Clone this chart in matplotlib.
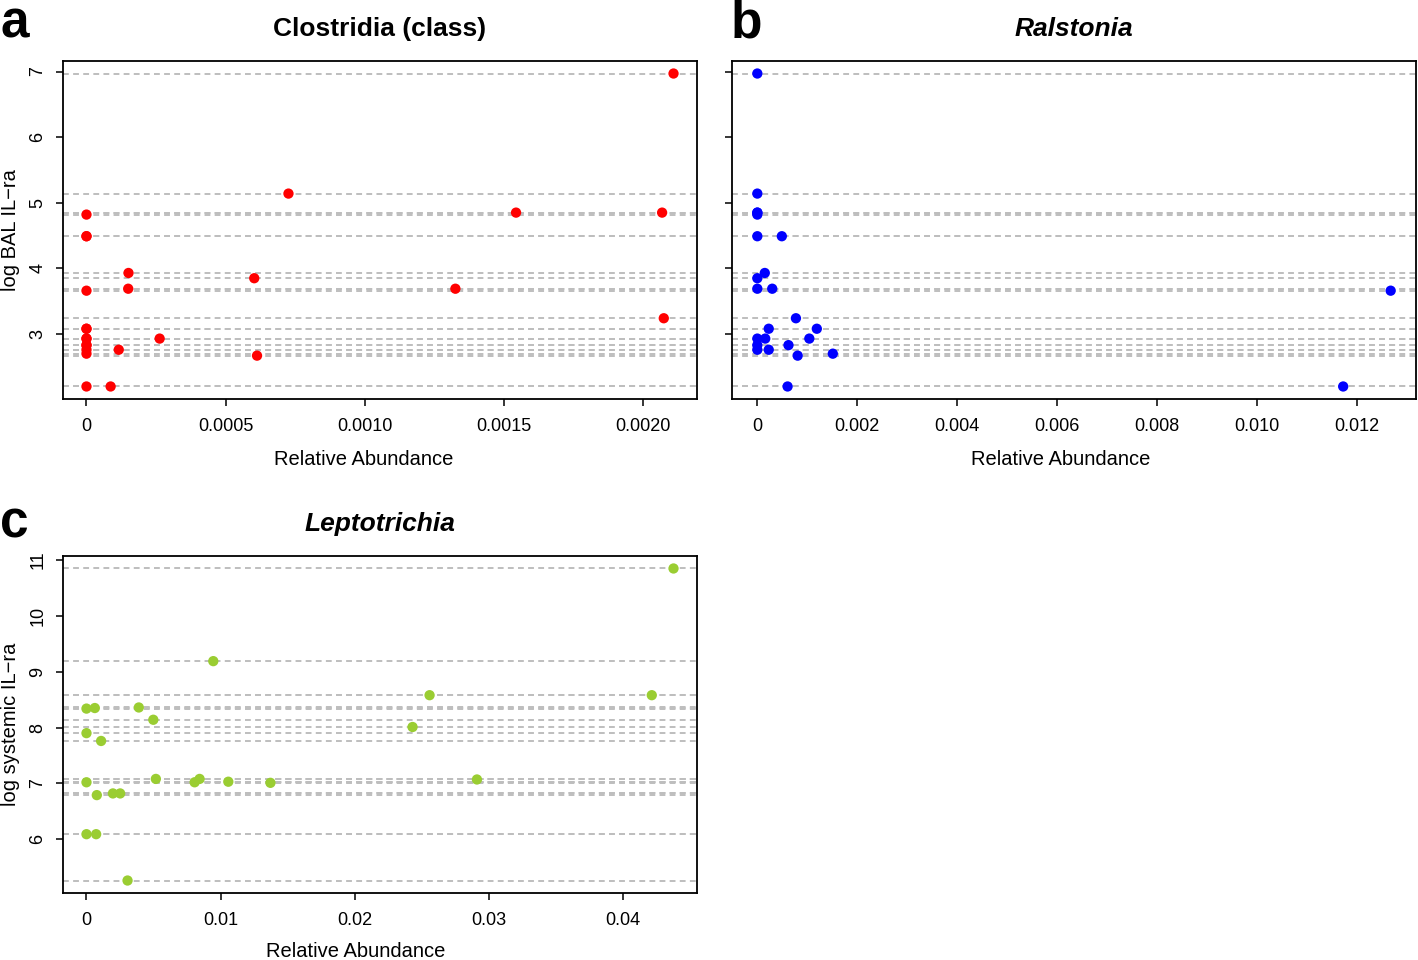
import matplotlib
matplotlib.use("Agg")
import matplotlib.pyplot as plt
import numpy as np

# shared response for panels a and b (log BAL IL-ra)
bal_il_ra = [6.97, 5.14, 4.85, 4.85, 4.82, 4.49, 4.49, 3.93, 3.85, 3.69, 3.69, 3.66, 3.24,
             3.08, 3.08, 2.93, 2.93, 2.93, 2.83, 2.83, 2.76, 2.76, 2.70, 2.67, 2.20, 2.20]
clostridia_abund = [0.00211, 0.000726, 0.001544, 0.002069, 0, 0, 0, 0.000151, 0.000603,
                    0.00015, 0.001326, 0, 0.002075, 0, 0, 0, 0.000263, 0, 0, 0, 0,
                    0.000116, 0, 0.000613, 0, 0.0000868]
ralstonia_abund = [0, 0, 0, 0, 0, 0, 0.00049, 0.000149, 0, 0, 0.000298, 0.01267, 0.000772,
                   0.000228, 0.00119, 0, 0.000158, 0.00104, 0, 0.000623, 0, 0.000228,
                   0.00151, 0.000807, 0.000605, 0.01172]

# panel c (log systemic IL-ra)
sys_il_ra = [10.85, 9.19, 8.58, 8.58, 8.34, 8.35, 8.36, 8.14, 8.01, 7.90, 7.76, 7.02, 7.08,
             7.02, 7.08, 7.03, 7.01, 7.07, 6.79, 6.82, 6.82, 6.09, 6.09, 5.26]
lepto_abund = [0.04375, 0.00945, 0.02557, 0.04213, 0, 0.00062, 0.0039, 0.00498, 0.0243, 0,
               0.00109, 0, 0.00517, 0.00806, 0.00843, 0.01057, 0.01371, 0.0291, 0.00077,
               0.00197, 0.00251, 0, 0.00072, 0.00306]

xt_a = [0, 0.0005, 0.0010, 0.0015, 0.0020]
xt_a_lab = ["0", "0.0005", "0.0010", "0.0015", "0.0020"]
xt_b = [0, 0.002, 0.004, 0.006, 0.008, 0.010, 0.012]
xt_b_lab = ["0", "0.002", "0.004", "0.006", "0.008", "0.010", "0.012"]
xt_c = [0, 0.01, 0.02, 0.03, 0.04]
xt_c_lab = ["0", "0.01", "0.02", "0.03", "0.04"]
yt_ab = [3, 4, 5, 6, 7]
yt_c = [6, 7, 8, 9, 10, 11]

plt.rcParams["font.family"] = ["Liberation Sans", "DejaVu Sans"]

W, H = 1418, 960
fig = plt.figure(figsize=(W / 100, H / 100), dpi=100)


def add_ax(l, t, r, b):
    return fig.add_axes([l / W, 1 - b / H, (r - l) / W, (b - t) / H])


def r_lim(v):
    # R style axis range: data range plus 4% each side
    lo, hi = min(v), max(v)
    pad = 0.04 * (hi - lo)
    return lo - pad, hi + pad


def panel(ax, x, y, color, xt, xtl, yt, show_ylab, ylabel, title, italic, xlab_pos):
    for yy in y:
        ax.axhline(yy, color="#bebebe", lw=1.4, ls=(0, (3, 2.2)), zorder=1)
    ax.scatter(x, y, s=55, color=color, edgecolors="none", zorder=3)
    ax.set_xlim(*r_lim(x))
    ax.set_ylim(*r_lim(y))
    ax.set_xticks(xt)
    ax.set_xticklabels(xtl)
    ax.set_yticks(yt)
    if show_ylab:
        ax.set_yticklabels([str(v) for v in yt], rotation=90, va="center")
    else:
        ax.set_yticklabels([])
    ax.tick_params(direction="out", length=5, width=1.1, labelsize=13)
    ax.tick_params(axis="x", pad=8.5)
    ax.tick_params(axis="y", pad=7)
    for s in ax.spines.values():
        s.set_linewidth(1.3)
    ax.set_xlabel("Relative Abundance", fontsize=14.5)
    ax.xaxis.set_label_coords(*xlab_pos)
    if ylabel:
        ax.set_ylabel(ylabel, fontsize=14.5)
        ax.yaxis.set_label_coords(-0.068, 0.5)
    # title baseline about 25 px above the axes top
    ax.text(0.5, 1 + 25 / 338, title, transform=ax.transAxes, ha="center", va="baseline",
            fontsize=19, fontweight="bold", style="italic" if italic else "normal")


ax_a = add_ax(63, 61, 697, 399)
panel(ax_a, clostridia_abund, bal_il_ra, "#ff0000", xt_a, xt_a_lab, yt_ab, True,
      "log BAL IL\u2212ra", "Clostridia (class)", False, (0.475, -0.152))

ax_b = add_ax(732, 61, 1416, 399)
panel(ax_b, ralstonia_abund, bal_il_ra, "#0000ff", xt_b, xt_b_lab, yt_ab, False,
      None, "Ralstonia", True, (0.48, -0.152))

ax_c = add_ax(63, 556, 697, 893)
panel(ax_c, lepto_abund, sys_il_ra, "#9acd32", xt_c, xt_c_lab, yt_c, True,
      "log systemic IL\u2212ra", "Leptotrichia", True, (0.462, -0.145))

for lab, px, py in [("a", 0, 37), ("b", 731, 37), ("c", 0, 538)]:
    fig.text(px / W, 1 - py / H, lab, fontsize=37, fontweight="bold", ha="left", va="baseline")

fig.savefig("out.png", dpi=100)
